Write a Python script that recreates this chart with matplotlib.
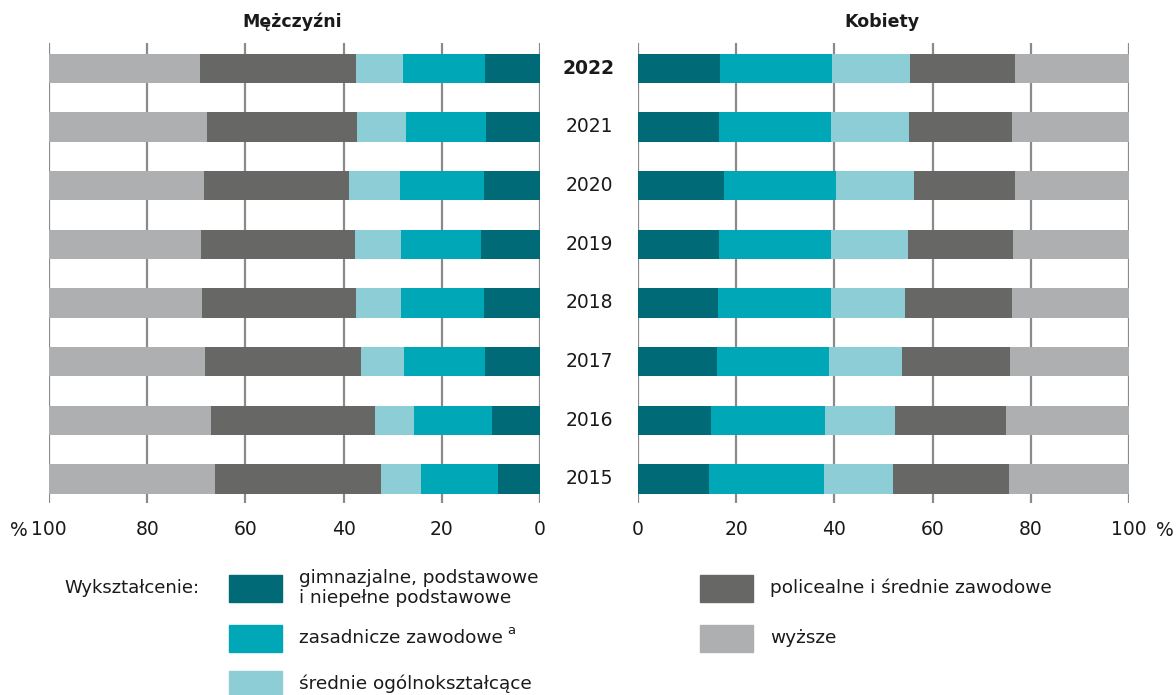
import matplotlib
matplotlib.use("Agg")
import matplotlib.pyplot as plt
import numpy as np

plt.rcParams["font.family"] = ["DejaVu Sans"]

W, H = 1176, 695

years = [2015, 2016, 2017, 2018, 2019, 2020, 2021, 2022]

categories = [
    "gimnazjalne, podstawowe\ni niepełne podstawowe",
    "zasadnicze zawodowe",
    "średnie ogólnokształcące",
    "policealne i średnie zawodowe",
    "wyższe",
]
colors = ["#006b77", "#00a8b7", "#8ccdd6", "#676765", "#aeafb0"]

# shares in %, order 2015 .. 2022
men_gimn = [8.6, 9.8, 11.1, 11.4, 12.1, 11.5, 10.9, 11.2]
men_zasad = [15.7, 15.9, 16.6, 16.9, 16.3, 17.0, 16.4, 16.8]
men_ogol = [8.1, 7.9, 8.8, 9.2, 9.3, 10.5, 10.0, 9.5]
men_polic = [33.8, 33.5, 31.7, 31.3, 31.3, 29.4, 30.5, 31.7]
men_wyzsze = [33.8, 32.9, 31.8, 31.2, 31.0, 31.6, 32.2, 30.8]

women_gimn = [14.4, 14.8, 16.1, 16.3, 16.5, 17.5, 16.5, 16.6]
women_zasad = [23.4, 23.2, 22.9, 23.0, 22.9, 22.8, 22.9, 23.0]
women_ogol = [14.1, 14.3, 14.7, 15.0, 15.5, 16.0, 15.8, 15.7]
women_polic = [23.6, 22.7, 22.0, 21.8, 21.4, 20.4, 20.9, 21.4]
women_wyzsze = [24.5, 25.0, 24.3, 23.9, 23.7, 23.3, 23.9, 23.3]

men = [men_gimn, men_zasad, men_ogol, men_polic, men_wyzsze]
women = [women_gimn, women_zasad, women_ogol, women_polic, women_wyzsze]

TXT = "#1a1a1a"


def px_box(x0, y0, x1, y1):
    return [x0 / W, 1 - y1 / H, (x1 - x0) / W, (y1 - y0) / H]


def fx(x):
    return x / W


def fy(y):
    return 1 - y / H


fig = plt.figure(figsize=(W / 100, H / 100), dpi=100)
ax_m = fig.add_axes(px_box(49, 43, 540, 503))
ax_k = fig.add_axes(px_box(638, 43, 1129, 503))

ypos = np.arange(len(years))
for ax, data in ((ax_m, men), (ax_k, women)):
    left = np.zeros(len(years))
    for vals, col in zip(data, colors):
        ax.barh(ypos, vals, left=left, height=0.5, color=col, edgecolor="none")
        left += np.array(vals)
    ax.set_ylim(-0.41, 7.43)
    ax.set_xticks([0, 20, 40, 60, 80, 100])
    ax.set_yticks([])
    ax.grid(axis="x", color="#8a8a8a", linewidth=1.6)
    ax.set_axisbelow(True)
    for s in ax.spines.values():
        s.set_visible(False)
    ax.tick_params(axis="x", length=0, pad=12, labelsize=13.5, colors=TXT)

ax_m.set_xlim(100, 0)
ax_k.set_xlim(0, 100)

fig.text(fx(28), fy(531), "%", ha="right", va="center", fontsize=13.5, color=TXT)
fig.text(fx(1156), fy(531), "%", ha="left", va="center", fontsize=13.5, color=TXT)

for i, yr in enumerate(years):
    ax_k.text(-10, i, str(yr), ha="center", va="center", fontsize=13.5,
              fontweight="bold" if yr == 2022 else "normal", color=TXT,
              clip_on=False)

fig.text(fx(292), fy(22), "Mężczyźni", ha="center", va="center",
         fontsize=12.5, fontweight="bold", color=TXT)
fig.text(fx(882), fy(22), "Kobiety", ha="center", va="center",
         fontsize=12.5, fontweight="bold", color=TXT)

# legend
fig.text(fx(200), fy(588), "Wykształcenie:", ha="right", va="center",
         fontsize=13, color=TXT)
legend_pos = [(229, 588), (229, 638), (229, 684), (700, 588), (700, 638)]
sup_anchor = None
for (lx, ly), lab, col in zip(legend_pos, categories, colors):
    fig.patches.append(plt.Rectangle((fx(lx), fy(ly + 13.5)), 53 / W, 27 / H,
                                     transform=fig.transFigure, color=col))
    t = fig.text(fx(lx + 70), fy(ly), lab, ha="left", va="center",
                 fontsize=13.3, color=TXT, linespacing=1.15)
    if lab == "zasadnicze zawodowe":
        sup_anchor = t

fig.canvas.draw()
bb = sup_anchor.get_window_extent(fig.canvas.get_renderer())
fig.text((bb.x1 + 4) / W, fy(634), "a", ha="left", va="baseline",
         fontsize=9.5, color=TXT)

fig.savefig("out.png", dpi=100)
